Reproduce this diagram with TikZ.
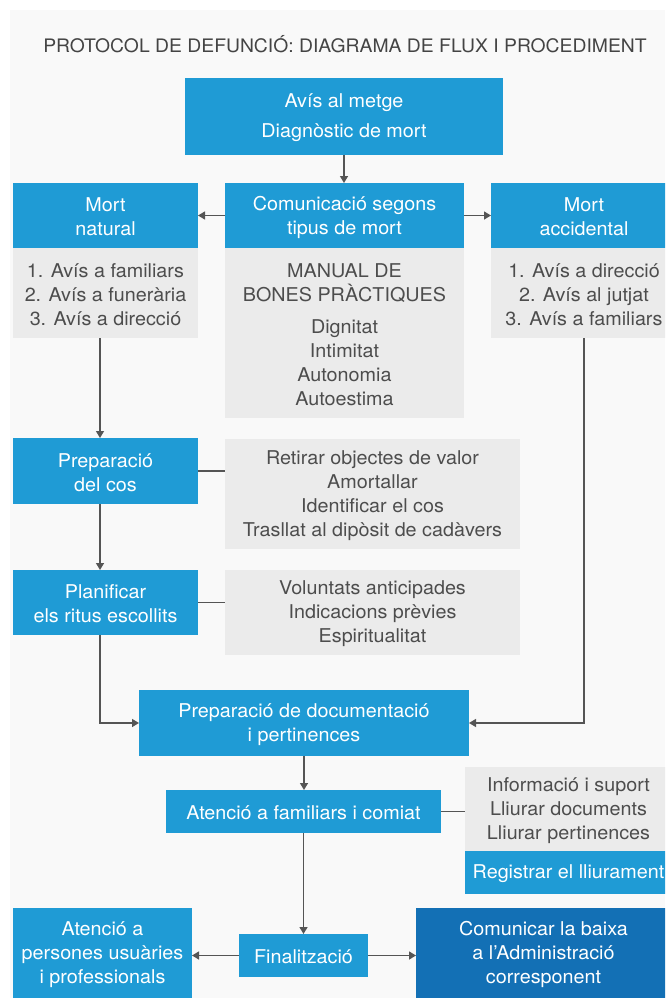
\documentclass[tikz,border=0pt]{standalone}
\usepackage{fontspec}
\setmainfont{TeX Gyre Heros}[FakeStretch=1.04]
\usetikzlibrary{arrows.meta}
\definecolor{boxblue}{HTML}{1F9BD5}
\definecolor{deepblue}{HTML}{1370B5}
\definecolor{notegray}{HTML}{EBEBEB}
\definecolor{pagegray}{HTML}{F9F9F9}
\definecolor{linegray}{HTML}{555555}
\definecolor{textgray}{HTML}{4D4D4D}
\definecolor{titlegray}{HTML}{444444}
\tikzset{
  base/.style={inner sep=0pt, outer sep=0pt, align=center,
    font=\fontsize{19}{24}\selectfont},
  bluebox/.style={base, fill=boxblue},
  darkbox/.style={base, fill=deepblue},
  notebox/.style={base, fill=notegray},
  lighttext/.style={base, text=white},
  darktext/.style={base, text=textgray},
  link/.style={draw=linegray, line width=1.4pt},
  arr/.style={link, -{Triangle[length=7pt,width=8pt]}},
}
% box: style, text style, name, centre x, centre y, width, height, text
\newcommand\flowbox[8]{%
  \node[#1, minimum width=#6pt, minimum height=#7pt] (#3) at (#4,#5) {};
  \node[#2] at ([yshift=-1.5pt]#3.center) {#8};
}
\begin{document}
\begin{tikzpicture}[x=1pt,y=-1pt]
\useasboundingbox (0,0) rectangle (665,998);
\clip (0,0) rectangle (665,998);
\fill[pagegray] (10,10) rectangle (665,998);

% title
\node[base, text=titlegray, font=\fontsize{18.6}{22}\selectfont] (title) at (345,44)
  {PROTOCOL DE DEFUNCIÓ: DIAGRAMA DE FLUX I PROCEDIMENT};

% first steps
\flowbox{bluebox}{lighttext}{metge}{344}{116.5}{318}{77}
  {Avís al metge\\[6pt]Diagnòstic de mort}
\flowbox{bluebox}{lighttext}{nat}{105.5}{215.5}{185}{65}{Mort\\natural}
\flowbox{bluebox}{lighttext}{com}{344.5}{215.5}{239}{65}{Comunicació segons\\tipus de mort}
\flowbox{bluebox}{lighttext}{acc}{584}{215.5}{186}{65}{Mort\\accidental}

\flowbox{notebox}{darktext}{natg}{105.5}{293}{185}{90}
  {1. Avís a familiars\\2. Avís a funerària\\3. Avís a direcció}
\flowbox{notebox}{darktext}{comg}{344.5}{333}{239}{170}
  {MANUAL DE\\BONES PRÀCTIQUES\\[8pt]Dignitat\\Intimitat\\Autonomia\\Autoestima}
\flowbox{notebox}{darktext}{accg}{584}{293}{186}{90}
  {1. Avís a direcció\\2. Avís al jutjat\\3. Avís a familiars}

% natural-death branch
\flowbox{bluebox}{lighttext}{cos}{105.5}{471}{185}{66}{Preparació\\del cos}
\flowbox{notebox}{darktext}{g1}{372.5}{494}{295}{110}
  {Retirar objectes de valor\\Amortallar\\Identificar el cos\\Trasllat al dipòsit de cadàvers}
\flowbox{bluebox}{lighttext}{plan}{105.5}{602.5}{185}{65}{Planificar\\els ritus escollits}
\flowbox{notebox}{darktext}{g2}{372.5}{612.5}{295}{85}
  {Voluntats anticipades\\Indicacions prèvies\\Espiritualitat}

% common steps
\flowbox{bluebox}{lighttext}{doc}{304}{723}{330}{66}{Preparació de documentació\\i pertinences}
\flowbox{bluebox}{lighttext}{att}{303.5}{811.5}{275}{43}{Atenció a familiars i comiat}
\flowbox{notebox}{darktext}{g3}{568.5}{809}{207}{84}
  {Informació i suport\\Lliurar documents\\Lliurar pertinences}
\flowbox{bluebox}{lighttext}{reg}{568.5}{872.5}{207}{43}{Registrar el lliurament}

% closing
\flowbox{bluebox}{lighttext}{pers}{102.5}{953}{179}{90}{Atenció a\\persones usuàries\\i professionals}
\flowbox{bluebox}{lighttext}{fin}{303.5}{955.5}{129}{43}{Finalització}
\flowbox{darkbox}{lighttext}{admin}{543.5}{953}{255}{90}{Comunicar la baixa\\a l’Administració\\corresponent}

% connectors
\coordinate (colx) at (100,0);
\draw[arr] (metge.south) -- (com.north -| metge.south);
\draw[arr] (com.west) -- (nat.east);
\draw[arr] (com.east) -- (acc.west);
\draw[arr] (natg.south -| colx) -- (cos.north -| colx);
\draw[arr] (cos.south -| colx) -- (plan.north -| colx);
\draw[arr] (plan.south -| colx) |- (doc.west);
\draw[arr] (accg.south) |- (doc.east);
\draw[link] (cos.east) -- (g1.west |- cos.east);
\draw[link] (plan.east) -- (g2.west |- plan.east);
\draw[arr] (doc.south) -- (att.north -| doc.south);
\draw[link] (att.east) -- (g3.west |- att.east);
\draw[arr] (att.south) -- (fin.north -| att.south);
\draw[arr] (fin.west) -- (fin.west -| pers.east);
\draw[arr] (fin.east) -- (fin.east -| admin.west);
\end{tikzpicture}
\end{document}
